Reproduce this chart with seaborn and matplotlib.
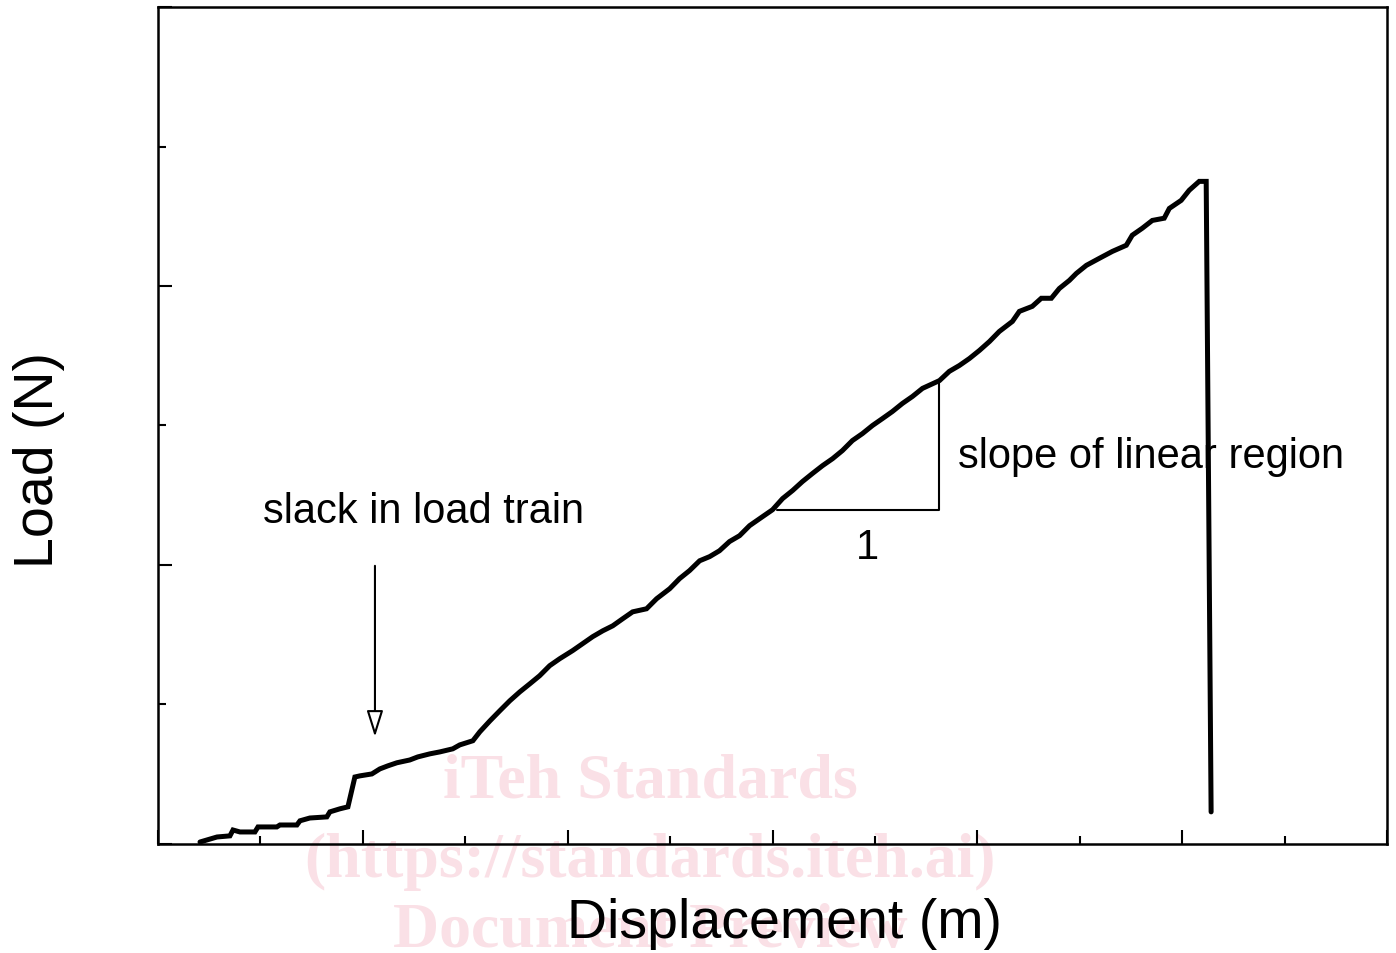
import matplotlib
matplotlib.use("Agg")
import matplotlib.pyplot as plt
import seaborn as sns
import pandas as pd

# -----------------------------
# Data (axis units = major tick spacing)
# -----------------------------
displacement = [
    0.205, 0.288, 0.351, 0.366, 0.400, 0.473, 0.488, 0.580, 0.595, 0.678,
    0.693, 0.741, 0.824, 0.839, 0.888, 0.927, 0.961, 0.985, 1.044, 1.083,
    1.122, 1.166, 1.229, 1.268, 1.327, 1.376, 1.439, 1.473, 1.537, 1.571,
    1.620, 1.668, 1.717, 1.766, 1.815, 1.863, 1.912, 1.961, 2.024, 2.073,
    2.122, 2.171, 2.220, 2.268, 2.317, 2.385, 2.434, 2.498, 2.546, 2.595,
    2.644, 2.693, 2.741, 2.790, 2.839, 2.888, 2.937, 3.000, 3.049, 3.098,
    3.146, 3.195, 3.244, 3.293, 3.341, 3.390, 3.439, 3.488, 3.537, 3.585,
    3.634, 3.683, 3.732, 3.815, 3.863, 3.912, 3.961, 4.010, 4.059, 4.107,
    4.171, 4.205, 4.268, 4.312, 4.361, 4.400, 4.449, 4.483, 4.532, 4.595,
    4.659, 4.727, 4.756, 4.805, 4.854, 4.912, 4.937, 4.995, 5.034, 5.083,
    5.117, 5.141,
]
load = [
    0.007, 0.025, 0.029, 0.050, 0.043, 0.043, 0.061, 0.061, 0.068, 0.068,
    0.083, 0.093, 0.097, 0.115, 0.126, 0.133, 0.240, 0.244, 0.251, 0.269,
    0.280, 0.291, 0.301, 0.312, 0.323, 0.330, 0.341, 0.355, 0.370, 0.402,
    0.441, 0.477, 0.513, 0.545, 0.574, 0.603, 0.639, 0.664, 0.693, 0.718,
    0.743, 0.764, 0.782, 0.807, 0.832, 0.843, 0.879, 0.915, 0.951, 0.980,
    1.015, 1.030, 1.051, 1.084, 1.105, 1.141, 1.166, 1.198, 1.238, 1.267,
    1.299, 1.328, 1.356, 1.381, 1.410, 1.446, 1.471, 1.500, 1.525, 1.550,
    1.579, 1.604, 1.633, 1.661, 1.694, 1.715, 1.740, 1.769, 1.801, 1.837,
    1.873, 1.909, 1.927, 1.956, 1.956, 1.991, 2.020, 2.045, 2.074, 2.099,
    2.124, 2.146, 2.182, 2.207, 2.235, 2.243, 2.278, 2.307, 2.343, 2.375,
    2.375, 0.115,
]

# slope triangle (run, rise) and slack arrow
tri_x = [3.020, 3.815, 3.815]
tri_y = [1.198, 1.198, 1.658]
arrow_x = 1.059
arrow_from = 0.997
arrow_to = 0.384

FONT = ["Liberation Sans", "DejaVu Sans"]
WM_COLOR = "#fae0e6"


def main():
    sns.set_style("ticks")
    plt.rcParams["font.family"] = FONT
    plt.rcParams["text.color"] = "black"
    plt.rcParams["axes.labelcolor"] = "black"

    df = pd.DataFrame({"x": displacement, "y": load})

    fig = plt.figure(figsize=(13.96, 9.54), dpi=100)
    ax = fig.add_axes([0.1132, 0.1143, 0.8804, 0.8773])
    ax.set_facecolor("none")

    sns.lineplot(data=df, x="x", y="y", sort=False, estimator=None,
                 color="black", lw=3.6, ax=ax)
    ax.lines[0].set_solid_joinstyle("miter")

    # slope triangle
    ax.plot(tri_x, tri_y, color="black", lw=1.5)

    # slack arrow
    ax.annotate("", xy=(arrow_x, arrow_to), xytext=(arrow_x, arrow_from),
                arrowprops=dict(arrowstyle="-|>,head_length=1.6,head_width=0.5",
                                fc="white", ec="black", lw=1.5,
                                shrinkA=0, shrinkB=0))

    ax.text(1.298, 1.195, "slack in load train", fontsize=30,
            ha="center", va="center", zorder=5)
    ax.text(3.907, 1.389, "slope of linear region", fontsize=30,
            ha="left", va="center", zorder=5)
    ax.text(3.463, 1.066, "1", fontsize=30, ha="center", va="center")

    ax.set_xlim(0, 6)
    ax.set_ylim(0, 3)
    ax.set_xticks([0, 1, 2, 3, 4, 5, 6])
    ax.set_xticks([0.5, 1.5, 2.5, 3.5, 4.5, 5.5], minor=True)
    ax.set_yticks([0, 1, 2, 3])
    ax.set_yticks([0.5, 1.5, 2.5], minor=True)
    ax.set_xticklabels([])
    ax.set_yticklabels([])
    ax.tick_params(which="major", direction="in", length=10, width=1.5,
                   top=False, right=False, color="black")
    ax.tick_params(which="minor", direction="in", length=5.5, width=1.5,
                   top=False, right=False, color="black")
    for s in ax.spines.values():
        s.set_visible(True)
        s.set_linewidth(1.8)
        s.set_color("black")

    ax.set_xlabel("Displacement (m)", fontsize=40)
    ax.set_ylabel("Load (N)", fontsize=40)
    ax.xaxis.set_label_coords(0.51, -0.095)
    ax.yaxis.set_label_coords(-0.097, 0.46)
    ax.xaxis.label.set_va("center")
    ax.yaxis.label.set_va("center")

    # watermark behind the plot
    wm = dict(color=WM_COLOR, fontsize=46, fontweight="bold",
              family=["Liberation Serif", "DejaVu Serif"],
              ha="center", va="center", zorder=-1)
    fig.text(650 / 1396, 1 - 783 / 954, "iTeh Standards", **wm)
    fig.text(650 / 1396, 1 - 862 / 954, "(https://standards.iteh.ai)", **wm)
    fig.text(650 / 1396, 1 - 932 / 954, "Document Preview", **wm)

    fig.savefig("out.png", dpi=100, facecolor="white")


if __name__ == "__main__":
    main()
